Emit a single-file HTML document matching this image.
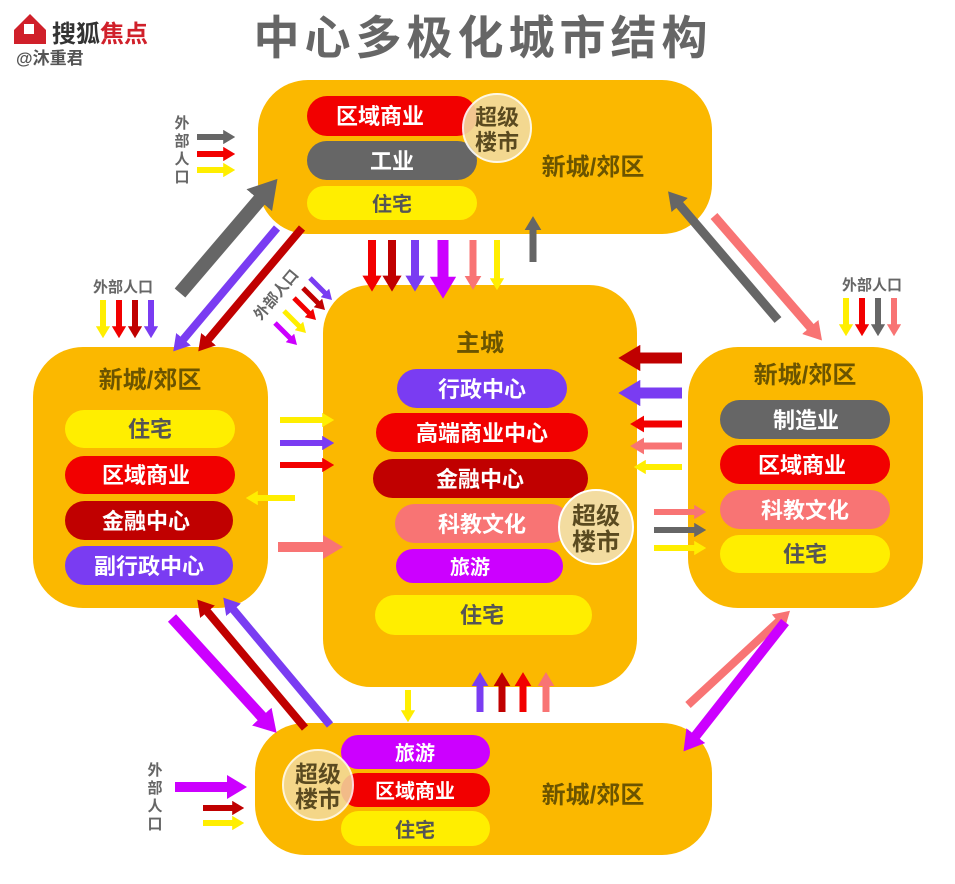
<!DOCTYPE html>
<html><head><meta charset="utf-8"><style>
body{margin:0;background:#fff;width:955px;height:879px;overflow:hidden}
svg text{font-family:"Liberation Sans","Noto Sans CJK SC",sans-serif;font-weight:bold}
</style></head><body>
<svg width="955" height="879" viewBox="0 0 955 879" xmlns="http://www.w3.org/2000/svg">
<defs>
<marker id="mr" viewBox="0 0 2 2.4" refX="0.3" refY="1.2" markerWidth="2" markerHeight="2.4" orient="auto"><path d="M0,0L2,1.2L0,2.4z" fill="#f20000"/></marker>
<marker id="md" viewBox="0 0 2 2.4" refX="0.3" refY="1.2" markerWidth="2" markerHeight="2.4" orient="auto"><path d="M0,0L2,1.2L0,2.4z" fill="#c00000"/></marker>
<marker id="mp" viewBox="0 0 2 2.4" refX="0.3" refY="1.2" markerWidth="2" markerHeight="2.4" orient="auto"><path d="M0,0L2,1.2L0,2.4z" fill="#7a3cf2"/></marker>
<marker id="mm" viewBox="0 0 2 2.4" refX="0.3" refY="1.2" markerWidth="2" markerHeight="2.4" orient="auto"><path d="M0,0L2,1.2L0,2.4z" fill="#cc00ff"/></marker>
<marker id="mk" viewBox="0 0 2 2.4" refX="0.3" refY="1.2" markerWidth="2" markerHeight="2.4" orient="auto"><path d="M0,0L2,1.2L0,2.4z" fill="#f87474"/></marker>
<marker id="mg" viewBox="0 0 2 2.4" refX="0.3" refY="1.2" markerWidth="2" markerHeight="2.4" orient="auto"><path d="M0,0L2,1.2L0,2.4z" fill="#666"/></marker>
<marker id="my" viewBox="0 0 2 2.4" refX="0.3" refY="1.2" markerWidth="2" markerHeight="2.4" orient="auto"><path d="M0,0L2,1.2L0,2.4z" fill="#ffee00"/></marker>
</defs>

<!-- logo -->
<path d="M14,30 L30,14 L46,30 L46,44 L14,44z" fill="#d0202a"/>
<rect x="24" y="24" width="10" height="10" fill="#fff"/>
<text x="52" y="42" font-size="24" fill="#333">搜狐<tspan fill="#d0202a">焦点</tspan></text>
<text x="16" y="64" font-size="17" fill="#555" font-weight="normal">@沐重君</text>
<text x="483" y="54" font-size="46" fill="#666" text-anchor="middle" letter-spacing="5">中心多极化城市结构</text>

<!-- boxes -->
<g fill="#fbb800">
<rect x="258" y="80" width="454" height="154" rx="50"/>
<rect x="323" y="285" width="314" height="402" rx="48"/>
<rect x="33" y="347" width="235" height="261" rx="50"/>
<rect x="688" y="347" width="235" height="261" rx="50"/>
<rect x="255" y="723" width="457" height="132" rx="50"/>
</g>

<g font-size="22" text-anchor="middle">
<rect x="307" y="96" width="170" height="40" rx="20" fill="#f20000"/><text x="380" y="124" fill="#fff">区域商业</text>
<rect x="307" y="141" width="170" height="39" rx="19.5" fill="#666"/><text x="392" y="169" fill="#fff">工业</text>
<rect x="307" y="186" width="170" height="34" rx="17" fill="#ffee00"/><text x="392" y="211" fill="#555" font-size="20">住宅</text>
<text x="593" y="175" fill="#6b5400" font-size="24">新城/郊区</text>
<text x="480" y="351" fill="#6b5400" font-size="24">主城</text>
<rect x="397" y="369" width="170" height="39" rx="19.5" fill="#7a3cf2"/><text x="482" y="397" fill="#fff">行政中心</text>
<rect x="376" y="413" width="212" height="39" rx="19.5" fill="#f20000"/><text x="482" y="441" fill="#fff">高端商业中心</text>
<rect x="373" y="459" width="215" height="39" rx="19.5" fill="#c00000"/><text x="480" y="487" fill="#fff">金融中心</text>
<rect x="395" y="504" width="175" height="39" rx="19.5" fill="#f87474"/><text x="482" y="532" fill="#fff">科教文化</text>
<rect x="396" y="549" width="167" height="34" rx="17" fill="#cc00ff"/><text x="470" y="574" fill="#fff" font-size="20">旅游</text>
<rect x="375" y="595" width="217" height="40" rx="20" fill="#ffee00"/><text x="482" y="623" fill="#555">住宅</text>
<text x="150" y="388" fill="#6b5400" font-size="24">新城/郊区</text>
<rect x="65" y="410" width="170" height="38" rx="19" fill="#ffee00"/><text x="150" y="437" fill="#555">住宅</text>
<rect x="65" y="456" width="170" height="38" rx="19" fill="#f20000"/><text x="146" y="483" fill="#fff">区域商业</text>
<rect x="65" y="501" width="168" height="39" rx="19.5" fill="#c00000"/><text x="146" y="529" fill="#fff">金融中心</text>
<rect x="65" y="546" width="168" height="39" rx="19.5" fill="#7a3cf2"/><text x="149" y="574" fill="#fff">副行政中心</text>
<text x="805" y="383" fill="#6b5400" font-size="24">新城/郊区</text>
<rect x="720" y="400" width="170" height="39" rx="19.5" fill="#666"/><text x="806" y="428" fill="#fff">制造业</text>
<rect x="720" y="445" width="170" height="39" rx="19.5" fill="#f20000"/><text x="802" y="473" fill="#fff">区域商业</text>
<rect x="720" y="490" width="170" height="39" rx="19.5" fill="#f87474"/><text x="805" y="518" fill="#fff">科教文化</text>
<rect x="720" y="535" width="170" height="38" rx="19" fill="#ffee00"/><text x="805" y="562" fill="#555">住宅</text>
<rect x="341" y="735" width="149" height="34" rx="17" fill="#cc00ff"/><text x="415" y="760" fill="#fff" font-size="20">旅游</text>
<rect x="341" y="773" width="149" height="34" rx="17" fill="#f20000"/><text x="415" y="798" fill="#fff" font-size="20">区域商业</text>
<rect x="341" y="811" width="149" height="35" rx="17.5" fill="#ffee00"/><text x="415" y="837" fill="#555" font-size="20">住宅</text>
<text x="593" y="803" fill="#6b5400" font-size="24">新城/郊区</text>
</g>

<g>
<circle cx="497" cy="128" r="34" fill="#f3dca0" stroke="#fff" stroke-width="2" opacity="0.9"/><text x="497" y="125" font-size="22" text-anchor="middle" fill="#5a4a20">超级</text><text x="497" y="150" font-size="22" text-anchor="middle" fill="#5a4a20">楼市</text>
<circle cx="596" cy="527" r="37" fill="#f3dca0" stroke="#fff" stroke-width="2"/><text x="596" y="524" font-size="24" text-anchor="middle" fill="#5a4a20">超级</text><text x="596" y="550" font-size="24" text-anchor="middle" fill="#5a4a20">楼市</text>
<circle cx="318" cy="785" r="35" fill="#f3dca0" stroke="#fff" stroke-width="2" opacity="0.85"/><text x="318" y="782" font-size="23" text-anchor="middle" fill="#5a4a20">超级</text><text x="318" y="807" font-size="23" text-anchor="middle" fill="#5a4a20">楼市</text>
</g>

<g font-size="15" fill="#666" text-anchor="middle">
<text x="182" y="128">外</text><text x="182" y="146">部</text><text x="182" y="164">人</text><text x="182" y="182">口</text>
<text x="123" y="292">外部人口</text>
<text x="872" y="290">外部人口</text>
<text x="155" y="775">外</text><text x="155" y="793">部</text><text x="155" y="811">人</text><text x="155" y="829">口</text>
<text x="0" y="0" transform="translate(280,298) rotate(-50)">外部人口</text>
</g>

<g fill="none">
<line x1="197" y1="137" x2="225" y2="137" stroke="#666" stroke-width="6" marker-end="url(#mg)"/>
<line x1="197" y1="154" x2="225" y2="154" stroke="#f20000" stroke-width="6" marker-end="url(#mr)"/>
<line x1="197" y1="170" x2="225" y2="170" stroke="#ffee00" stroke-width="6" marker-end="url(#my)"/>
<line x1="372" y1="240" x2="372" y2="278" stroke="#f20000" stroke-width="8" marker-end="url(#mr)"/>
<line x1="392" y1="240" x2="392" y2="278" stroke="#c00000" stroke-width="8" marker-end="url(#md)"/>
<line x1="415" y1="240" x2="415" y2="278" stroke="#7a3cf2" stroke-width="8" marker-end="url(#mp)"/>
<line x1="443" y1="240" x2="443" y2="280" stroke="#cc00ff" stroke-width="11" marker-end="url(#mm)"/>
<line x1="473" y1="240" x2="473" y2="278" stroke="#f87474" stroke-width="7" marker-end="url(#mk)"/>
<line x1="497" y1="240" x2="497" y2="280" stroke="#ffee00" stroke-width="6" marker-end="url(#my)"/>
<line x1="533" y1="262" x2="533" y2="228" stroke="#666" stroke-width="7" marker-end="url(#mg)"/>
<line x1="180" y1="293" x2="262" y2="197" stroke="#666" stroke-width="14" marker-end="url(#mg)"/>
<line x1="277" y1="228" x2="182" y2="341" stroke="#7a3cf2" stroke-width="8" marker-end="url(#mp)"/>
<line x1="302" y1="228" x2="207" y2="341" stroke="#c00000" stroke-width="8" marker-end="url(#md)"/>
<line x1="103" y1="300" x2="103" y2="328" stroke="#ffee00" stroke-width="6" marker-end="url(#my)"/>
<line x1="119" y1="300" x2="119" y2="328" stroke="#f20000" stroke-width="6" marker-end="url(#mr)"/>
<line x1="135" y1="300" x2="135" y2="328" stroke="#c00000" stroke-width="6" marker-end="url(#md)"/>
<line x1="151" y1="300" x2="151" y2="328" stroke="#7a3cf2" stroke-width="6" marker-end="url(#mp)"/>
<line x1="310" y1="278" x2="326" y2="294" stroke="#7a3cf2" stroke-width="5" marker-end="url(#mp)"/>
<line x1="303" y1="288" x2="319" y2="304" stroke="#c00000" stroke-width="5" marker-end="url(#md)"/>
<line x1="294" y1="298" x2="310" y2="314" stroke="#f20000" stroke-width="5" marker-end="url(#mr)"/>
<line x1="284" y1="311" x2="300" y2="327" stroke="#ffee00" stroke-width="5" marker-end="url(#my)"/>
<line x1="275" y1="323" x2="291" y2="339" stroke="#cc00ff" stroke-width="5" marker-end="url(#mm)"/>
<line x1="280" y1="420" x2="324" y2="420" stroke="#ffee00" stroke-width="6" marker-end="url(#my)"/>
<line x1="280" y1="443" x2="324" y2="443" stroke="#7a3cf2" stroke-width="6" marker-end="url(#mp)"/>
<line x1="280" y1="465" x2="324" y2="465" stroke="#f20000" stroke-width="6" marker-end="url(#mr)"/>
<line x1="295" y1="498" x2="256" y2="498" stroke="#ffee00" stroke-width="6" marker-end="url(#my)"/>
<line x1="278" y1="547" x2="326" y2="547" stroke="#f87474" stroke-width="10" marker-end="url(#mk)"/>
<line x1="682" y1="358" x2="637" y2="358" stroke="#c00000" stroke-width="11" marker-end="url(#md)"/>
<line x1="682" y1="393" x2="637" y2="393" stroke="#7a3cf2" stroke-width="11" marker-end="url(#mp)"/>
<line x1="682" y1="424" x2="642" y2="424" stroke="#f20000" stroke-width="7" marker-end="url(#mr)"/>
<line x1="682" y1="446" x2="642" y2="446" stroke="#f87474" stroke-width="7" marker-end="url(#mk)"/>
<line x1="682" y1="467" x2="644" y2="467" stroke="#ffee00" stroke-width="6" marker-end="url(#my)"/>
<line x1="654" y1="512" x2="696" y2="512" stroke="#f87474" stroke-width="6" marker-end="url(#mk)"/>
<line x1="654" y1="530" x2="696" y2="530" stroke="#666" stroke-width="6" marker-end="url(#mg)"/>
<line x1="654" y1="548" x2="696" y2="548" stroke="#ffee00" stroke-width="6" marker-end="url(#my)"/>
<line x1="778" y1="320" x2="678" y2="203" stroke="#666" stroke-width="9" marker-end="url(#mg)"/>
<line x1="714" y1="216" x2="812" y2="329" stroke="#f87474" stroke-width="9" marker-end="url(#mk)"/>
<line x1="846" y1="298" x2="846" y2="326" stroke="#ffee00" stroke-width="6" marker-end="url(#my)"/>
<line x1="862" y1="298" x2="862" y2="326" stroke="#f20000" stroke-width="6" marker-end="url(#mr)"/>
<line x1="878" y1="298" x2="878" y2="326" stroke="#666" stroke-width="6" marker-end="url(#mg)"/>
<line x1="894" y1="298" x2="894" y2="326" stroke="#f87474" stroke-width="6" marker-end="url(#mk)"/>
<line x1="172" y1="618" x2="264" y2="719" stroke="#cc00ff" stroke-width="11" marker-end="url(#mm)"/>
<line x1="305" y1="728" x2="206" y2="610" stroke="#c00000" stroke-width="8" marker-end="url(#md)"/>
<line x1="330" y1="725" x2="232" y2="608" stroke="#7a3cf2" stroke-width="8" marker-end="url(#mp)"/>
<line x1="688" y1="705" x2="780" y2="620" stroke="#f87474" stroke-width="8" marker-end="url(#mk)"/>
<line x1="785" y1="622" x2="694" y2="738" stroke="#cc00ff" stroke-width="10" marker-end="url(#mm)"/>
<line x1="408" y1="690" x2="408" y2="712" stroke="#ffee00" stroke-width="6" marker-end="url(#my)"/>
<line x1="480" y1="712" x2="480" y2="684" stroke="#7a3cf2" stroke-width="7" marker-end="url(#mp)"/>
<line x1="502" y1="712" x2="502" y2="684" stroke="#c00000" stroke-width="7" marker-end="url(#md)"/>
<line x1="523" y1="712" x2="523" y2="684" stroke="#f20000" stroke-width="7" marker-end="url(#mr)"/>
<line x1="546" y1="712" x2="546" y2="684" stroke="#f87474" stroke-width="7" marker-end="url(#mk)"/>
<line x1="175" y1="787" x2="230" y2="787" stroke="#cc00ff" stroke-width="10" marker-end="url(#mm)"/>
<line x1="203" y1="808" x2="234" y2="808" stroke="#c00000" stroke-width="6" marker-end="url(#md)"/>
<line x1="203" y1="823" x2="234" y2="823" stroke="#ffee00" stroke-width="6" marker-end="url(#my)"/>
</g>
</svg>
</body></html>
